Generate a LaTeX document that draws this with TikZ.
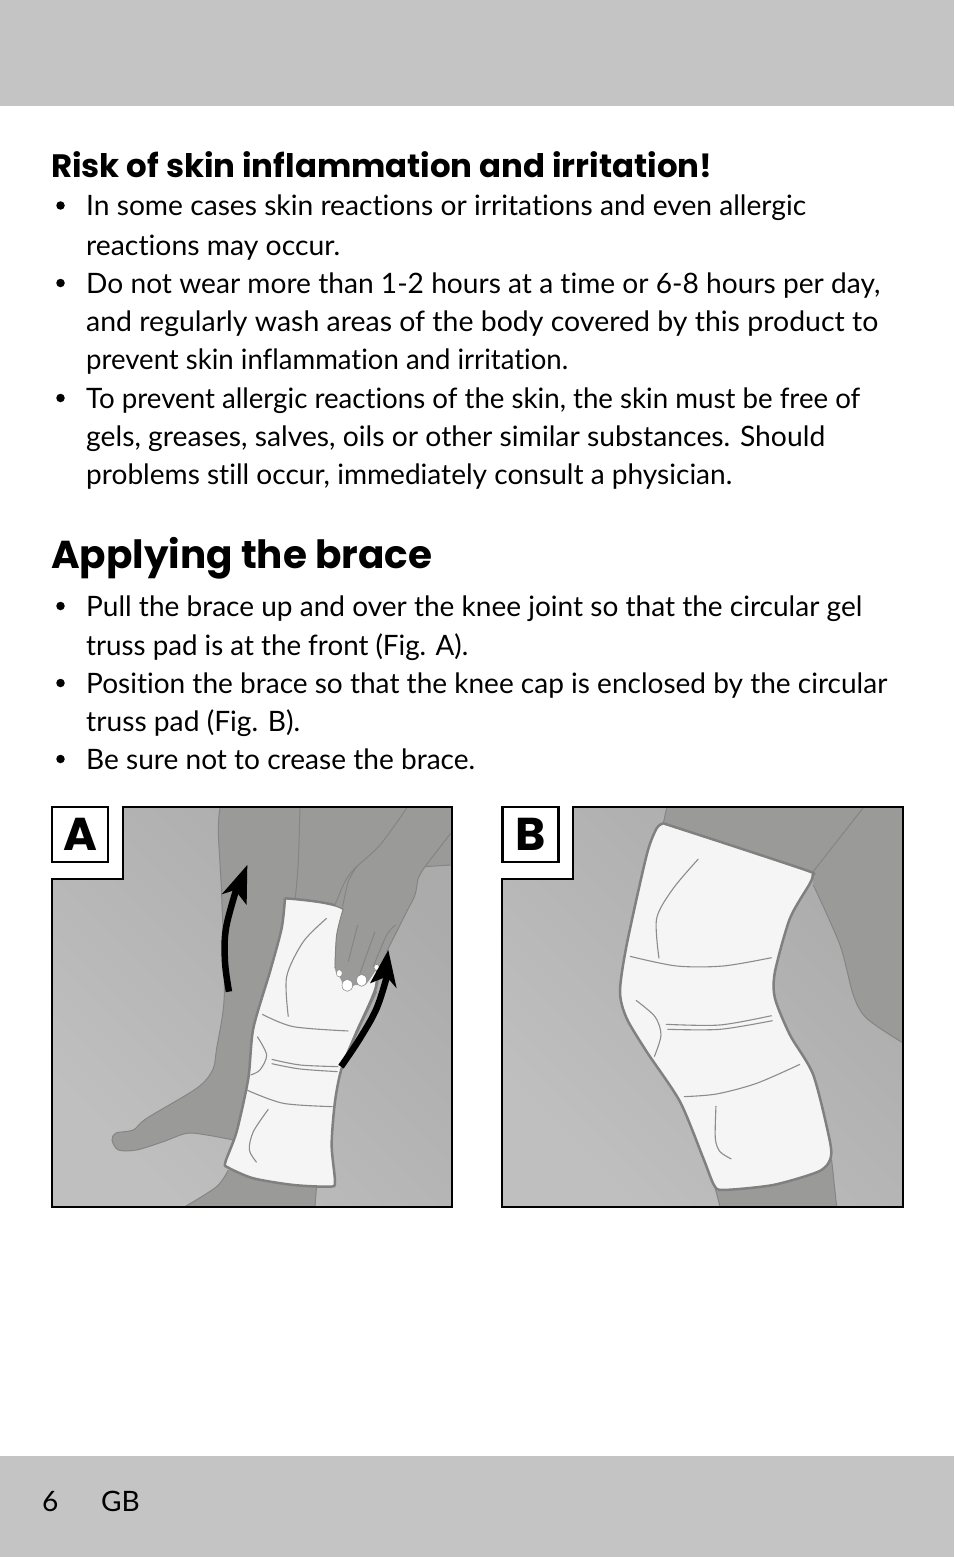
\documentclass[tikz,border=0pt]{standalone}
\usepackage{fontspec}
\setmainfont{Lato}[Ligatures=NoCommon]
\newfontfamily\headfont{Poppins}
\newcommand{\fitline}[2]{\resizebox{#1pt}{\height}{#2}}
\definecolor{band}{HTML}{C4C4C4}
\definecolor{legdark}{HTML}{9A9A98}
\definecolor{bracefill}{HTML}{F5F5F5}
\definecolor{braceline}{HTML}{808080}
\definecolor{crease}{HTML}{8C8C8C}
\definecolor{legline}{HTML}{858585}
\tikzset{
  bodytext/.style={anchor=base west,inner sep=0pt,font=\fontsize{28.1}{30}\selectfont},
  bullet/.style={circle,fill=black,inner sep=0pt,minimum size=8.5pt},
  panelbg/.style={shading=axis,left color=black!25,right color=black!33,shading angle=135},
  frameline/.style={draw=black,line width=2.3pt},
  leg/.style={fill=legdark},
  legedge/.style={draw=legline,line width=1pt},
  brace/.style={fill=bracefill,draw=braceline,line width=2.5pt,line join=round},
  creaseline/.style={draw=crease,line width=1.1pt},
  tag/.style={draw=black,fill=white,line width=2.3pt,minimum width=56pt,minimum height=55pt,inner sep=0pt,font=\headfont\bfseries\fontsize{46}{46}\selectfont},
  pushbody/.style={draw=black,line width=6.5pt},
}
\begin{document}
\begin{tikzpicture}[x=1pt,y=-1pt]
\useasboundingbox (0,0) rectangle (954,1557);
\fill[white] (0,0) rectangle (954,1557);
\fill[band] (0,0) rectangle (954,106);
\fill[band] (0,1456) rectangle (954,1557);
% warning text
\node[bodytext,font=\headfont\bfseries\fontsize{32.4}{33}\selectfont] (riskhead) at (51,178) {Risk of skin inflammation and irritation!};
\node[bullet] (b1) at (60.5,205.5) {};
\node[bodytext] (l1) at (86,216) {\fitline{720}{In some cases skin reactions or irritations and even allergic}};
\node[bodytext] (l2) at (86,255) {\fitline{254}{reactions may occur.}};
\node[bullet] (b2) at (60.5,283) {};
\node[bodytext] (l3) at (86,293) {\fitline{794}{Do not wear more than 1-2 hours at a time or 6-8 hours per day,}};
\node[bodytext] (l4) at (86,331) {\fitline{792}{and regularly wash areas of the body covered by this product to}};
\node[bodytext] (l5) at (86,369) {\fitline{482}{prevent skin inflammation and irritation.}};
\node[bullet] (b3) at (60.5,398) {};
\node[bodytext] (l6) at (86,408) {\fitline{774}{To prevent allergic reactions of the skin, the skin must be free of}};
\node[bodytext] (l7) at (86,446) {\fitline{739}{gels, greases, salves, oils or other similar substances. Should}};
\node[bodytext] (l8) at (86,484) {\fitline{646}{problems still occur, immediately consult a physician.}};
% applying
\node[bodytext,font=\headfont\bfseries\fontsize{38.9}{40}\selectfont] (applyhead) at (51,568) {Applying the brace};
\node[bullet] (b4) at (60.5,606) {};
\node[bodytext] (l9) at (86,616) {\fitline{776}{Pull the brace up and over the knee joint so that the circular gel}};
\node[bodytext] (l10) at (86,655) {\fitline{382}{truss pad is at the front (Fig. A).}};
\node[bullet] (b5) at (60.5,683) {};
\node[bodytext] (l11) at (86,693) {\fitline{801}{Position the brace so that the knee cap is enclosed by the circular}};
\node[bodytext] (l12) at (86,731) {\fitline{214}{truss pad (Fig. B).}};
\node[bullet] (b6) at (60.5,759) {};
\node[bodytext] (l13) at (86,769) {\fitline{389}{Be sure not to crease the brace.}};
% page number
\node[bodytext] (pageno) at (42,1511) {6};
\node[bodytext] (lang) at (101,1511) {GB};
% panel A
\begin{scope}[shift={(40pt,-795pt)},x=.3333pt,y=-.3333pt]
\fill[panelbg] (248,35) -- (1237,35) -- (1237,1237) -- (35,1237) -- (35,253) -- (248,253) -- cycle;
% far leg and foot
\fill[leg] plot[smooth,tension=.5] coordinates {(540,38) (535,110) (545,300) (553,600) (530,760) (518,825) (470,880) (320,970) (280,1005) (228,1014) (216,1035) (235,1065) (290,1065) (370,1040) (440,1015) (500,1020) (585,1036)} -- (760,1036) -- (766,310) -- (780,38) -- cycle;
\draw[legedge] plot[smooth,tension=.5] coordinates {(540,38) (535,110) (545,300) (553,600) (530,760) (518,825) (470,880) (320,970) (280,1005) (228,1014) (216,1035) (235,1065) (290,1065) (370,1040) (440,1015) (500,1020) (585,1036)};
% thigh and arm
\fill[leg] (778,38) -- (1235,38) -- (1235,210) -- (1155,215) -- (1135,250) -- (1125,300) -- (1095,360) -- (1040,470) -- (1010,590) -- (925,770) -- (760,320) -- cycle;
\draw[legedge] plot[smooth,tension=.5] coordinates {(780,38) (775,200) (766,310)};
\draw[legedge] (1232,115) -- (1155,215) -- (1232,210);
\draw[legedge] (1010,590) -- (925,770);
% lower leg
\fill[leg] plot[smooth,tension=.5] coordinates {(565,1125) (530,1175) (435,1235)} -- (825,1235) -- (830,1165) -- cycle;
\draw[legedge] plot[smooth,tension=.5] coordinates {(565,1125) (530,1175) (435,1235)};
\draw[legedge] (830,1170) -- (825,1235);
% brace
\path[brace] plot[smooth,tension=.45] coordinates {(735,310) (908,340) (1000,480) (1008,575) (950,710) (905,820) (885,920) (875,1050) (885,1160) (870,1175) (760,1170) (640,1150) (565,1118) (556,1102) (590,1010) (625,850) (640,700) (690,530) (725,400) (735,310)};
\draw[creaseline] plot[smooth] coordinates {(860,370) (790,440) (740,545) (745,665)};
\draw[creaseline] plot[smooth] coordinates {(667,658) (760,695) (925,708)};
\draw[creaseline] plot[smooth] coordinates {(652,725) (680,780) (660,825) (632,840)};
\draw[creaseline] plot[smooth] coordinates {(695,793) (780,810) (895,815)};
\draw[creaseline] plot[smooth] coordinates {(695,806) (780,822) (893,830)};
\draw[creaseline] plot[smooth] coordinates {(620,885) (730,925) (878,935)};
\draw[creaseline] plot[smooth] coordinates {(685,943) (640,1010) (628,1065) (650,1102)};
% hand
\path[fill=legdark] plot[smooth,tension=.5] coordinates {(910,340) (890,420) (885,520) (900,548) (920,585) (945,570) (975,570) (1005,530) (1040,470) (1095,360) (1125,300) (1135,250) (1155,215)} -- (1000,150) -- (885,330) -- cycle;
\draw[legedge] plot[smooth,tension=.5] coordinates {(910,340) (890,420) (885,520)};
\draw[legedge] plot[smooth,tension=.5] coordinates {(1040,470) (1095,360) (1125,300) (1135,250) (1155,215)};
\draw[legedge] plot[smooth,tension=.5] coordinates {(885,330) (915,260) (945,220) (1020,150) (1100,40)};
\draw[legedge] plot[smooth,tension=.5] coordinates {(908,335) (925,260) (950,215)};
\draw[legedge] (953,390) -- (925,500);
\draw[legedge] (1005,410) -- (960,535);
\draw[legedge] plot[smooth,tension=.5] coordinates {(1067,390) (1040,420) (1000,515)};
\foreach \nx/\ny/\nw/\nh in {898/535/9/11,922/571/16/18,965/556/15/18,1010/517/8/9}
  \fill[white,draw=legline,line width=.5pt] (\nx,\ny) ellipse [x radius=\nw,y radius=\nh];
% push arrows
\draw[pushbody] plot[smooth,tension=.6] coordinates {(567,590) (555,500) (558,400) (590,280)};
\fill[black] (622,210) -- (545,298) -- (585,285) -- (620,330) -- cycle;
\draw[pushbody] plot[smooth,tension=.6] coordinates {(903,815) (960,730) (1010,640) (1042,540)};
\fill[black] (1045,465) -- (990,565) -- (1040,545) -- (1070,580) -- cycle;
\draw[frameline] (248,35) -- (1237,35) -- (1237,1237) -- (35,1237) -- (35,253) -- (248,253) -- cycle;
\end{scope}
\node[tag] (tagA) at (80,834.5) {A};
% panel B
\begin{scope}[shift={(490pt,-795pt)},x=.3333pt,y=-.3333pt]
\fill[panelbg] (250,35) -- (1240,35) -- (1240,1237) -- (37,1237) -- (37,253) -- (250,253) -- cycle;
\fill[leg] (530,38) -- (1236,38) -- (1236,742) -- plot[smooth,tension=.5] coordinates {(1236,742) (1130,670) (1090,600) (1050,450) (970,270)} -- (968,235) -- (700,300) -- (520,85) -- cycle;
\draw[legedge] (530,38) -- (520,85);
\draw[legedge] (1120,38) -- (968,232);
\draw[legedge] plot[smooth,tension=.5] coordinates {(1236,742) (1130,670) (1090,600) (1050,450) (970,270)};
\fill[leg] (672,1170) -- (690,1235) -- (1040,1235) -- (1025,1090) -- cycle;
\draw[legedge] (676,1180) -- (690,1235);
\draw[legedge] (1025,1095) -- (1040,1235);
\path[brace] plot[smooth,tension=.45] coordinates {(520,85) (720,150) (955,228) (968,240) (960,265) (900,370) (855,530) (855,610) (900,720) (970,840) (1020,1040) (1020,1095) (985,1130) (850,1170) (700,1185) (672,1170) (640,1090) (570,920) (470,770) (410,670) (390,590) (410,450) (470,180) (500,100) (520,85)};
\draw[creaseline] plot[smooth] coordinates {(625,192) (550,280) (500,370) (507,490)};
\draw[creaseline] plot[smooth] coordinates {(420,484) (560,513) (700,513) (845,488)};
\draw[creaseline] plot[smooth] coordinates {(438,616) (495,665) (513,720) (493,785)};
\draw[creaseline] plot[smooth] coordinates {(528,688) (690,690) (845,662)};
\draw[creaseline] plot[smooth] coordinates {(532,703) (690,703) (848,677)};
\draw[creaseline] plot[smooth] coordinates {(582,905) (680,897) (800,865) (930,808)};
\draw[creaseline] plot[smooth] coordinates {(678,933) (676,1030) (690,1070) (724,1092)};
\draw[frameline] (250,35) -- (1240,35) -- (1240,1237) -- (37,1237) -- (37,253) -- (250,253) -- cycle;
\end{scope}
\node[tag] (tagB) at (530.5,834.5) {B};
\end{tikzpicture}
\end{document}
